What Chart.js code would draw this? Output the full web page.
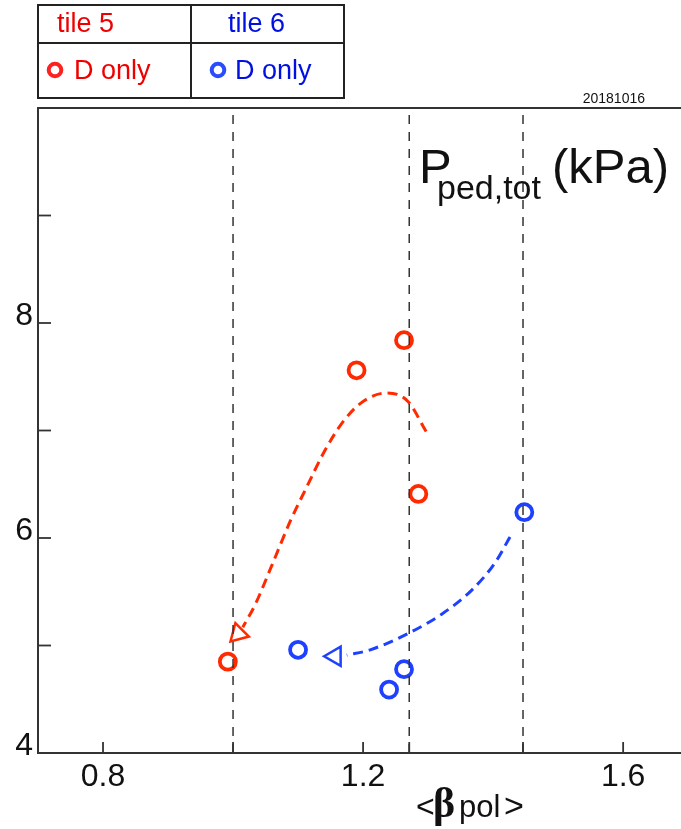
<!DOCTYPE html>
<html>
<head>
<meta charset="utf-8">
<script src="https://cdn.jsdelivr.net/npm/chart.js@4.4.1/dist/chart.umd.min.js"></script>
<style>
  body { margin: 0; background: #fff; }
  canvas { display: block; }
</style>
</head>
<body>
<canvas id="myChart" width="681" height="829"></canvas>
<script>
// ---------------- values ----------------
var tile5Beta = [0.992, 1.19, 1.263, 1.285];
var tile5P    = [4.85, 7.56, 7.84, 6.41];
var tile6Beta = [1.10, 1.24, 1.263, 1.448];
var tile6P    = [4.96, 4.59, 4.78, 6.24];

// hand drawn trend arrows
var tile5TrendBeta = [1.297, 1.269, 1.237, 1.200, 1.169, 1.140, 1.113, 1.089, 1.060, 1.034, 1.015];
var tile5TrendP    = [6.99, 7.27, 7.35, 7.27, 7.08, 6.80, 6.47, 6.17, 5.75, 5.38, 5.17];
var tile6TrendBeta = [1.426, 1.403, 1.368, 1.323, 1.272, 1.211, 1.175];
var tile6TrendP    = [6.01, 5.77, 5.52, 5.30, 5.12, 4.96, 4.91];
var arrowBeta = [1.008, 1.157];
var arrowP    = [5.11, 4.90];

var markerLines = [1.0, 1.271, 1.446];
var xTickLabels = [0.8, 1.2, 1.6];
var yMinorTicks = [5, 6, 7, 8, 9];
var yTickLabels = [4, 6, 8];

var RED = "#ff2a00";
var BLUE = "#1e40ff";
var FONT = "'Liberation Sans', Arial, sans-serif";

function pts(xs, ys) {
    return xs.map(function (x, i) { return { x: x, y: ys[i] }; });
}

// vertical dashed reference lines
var lineSets = markerLines.map(function (b) {
    return {
        data: [{ x: b, y: 4 }, { x: b, y: 10 }],
        showLine: true,
        borderColor: "#333",
        borderWidth: 1.5,
        borderDash: [9, 8],
        pointRadius: 0
    };
});

// --------------------- overlay: frame, ticks, texts, legend ---------------------
var overlay = {
    id: "overlay",
    afterDraw: function (chart) {
        var c = chart.ctx;
        var a = chart.chartArea;
        var xs = chart.scales.x, ys = chart.scales.y;
        c.save();
        c.strokeStyle = "#333";
        c.lineWidth = 2;
        // top frame line
        c.beginPath();
        c.moveTo(a.left, a.top);
        c.lineTo(a.right, a.top);
        c.stroke();
        // inward ticks
        c.lineWidth = 1.8;
        xTickLabels.concat(markerLines).forEach(function (v) {
            var px = xs.getPixelForValue(v);
            c.beginPath();
            c.moveTo(px, a.bottom);
            c.lineTo(px, a.bottom - 11);
            c.stroke();
        });
        yMinorTicks.forEach(function (v) {
            var py = ys.getPixelForValue(v);
            c.beginPath();
            c.moveTo(a.left, py);
            c.lineTo(a.left + 13, py);
            c.stroke();
        });

        // title  P_ped,tot (kPa)
        c.fillStyle = "#111";
        c.textBaseline = "alphabetic";
        c.textAlign = "left";
        c.font = "49px " + FONT;
        c.fillText("P", 419, 183);
        c.font = "34px " + FONT;
        c.fillText("ped,tot", 437, 199);
        c.font = "49px " + FONT;
        c.fillText("(kPa)", 552, 183);

        // date stamp
        c.font = "14px " + FONT;
        c.textAlign = "right";
        c.fillText("20181016", 645, 103);

        // x axis title <beta_pol>
        c.textAlign = "left";
        c.font = "32px " + FONT;
        c.fillText("<", 416, 817);
        c.font = "bold 42px 'Liberation Serif', 'DejaVu Serif', serif";
        c.fillText("\u03b2", 433, 817);
        c.font = "31px " + FONT;
        c.fillText("pol", 459, 817);
        c.font = "34px " + FONT;
        c.fillText(">", 504, 817);

        // legend table
        c.strokeStyle = "#222";
        c.lineWidth = 2;
        c.strokeRect(38, 5, 306, 93);
        c.beginPath();
        c.moveTo(38, 43); c.lineTo(344, 43);
        c.moveTo(191, 5); c.lineTo(191, 98);
        c.stroke();
        c.font = "27px " + FONT;
        c.fillStyle = "#ee0000";
        c.fillText("tile 5", 57, 32);
        c.fillText("D only", 74, 79);
        c.fillStyle = "#0010e0";
        c.fillText("tile 6", 228, 32);
        c.fillText("D only", 235, 79);
        c.lineWidth = 4;
        c.strokeStyle = "#ff2020";
        c.beginPath(); c.arc(55, 70, 6.3, 0, Math.PI * 2); c.stroke();
        c.strokeStyle = "#2a4cff";
        c.beginPath(); c.arc(218, 70, 6.3, 0, Math.PI * 2); c.stroke();
        c.restore();
    }
};

var ctx = document.getElementById("myChart");
new Chart(ctx, {
    type: "scatter",
    data: {
        datasets: lineSets.concat([
            {
                label: "tile 5 D only",
                data: pts(tile5Beta, tile5P),
                pointStyle: "circle",
                pointRadius: 8,
                pointBorderWidth: 3.8,
                borderColor: RED,
                backgroundColor: "rgba(0,0,0,0)"
            },
            {
                label: "tile 6 D only",
                data: pts(tile6Beta, tile6P),
                pointStyle: "circle",
                pointRadius: 8,
                pointBorderWidth: 3.8,
                borderColor: BLUE,
                backgroundColor: "rgba(0,0,0,0)"
            },
            {
                data: pts(tile5TrendBeta, tile5TrendP),
                showLine: true,
                cubicInterpolationMode: "monotone",
                borderColor: RED,
                borderWidth: 3,
                borderDash: [10, 6],
                pointRadius: 0
            },
            {
                data: pts(tile6TrendBeta, tile6TrendP),
                showLine: true,
                cubicInterpolationMode: "monotone",
                borderColor: BLUE,
                borderWidth: 3,
                borderDash: [10, 6],
                pointRadius: 0
            },
            {
                data: [{ x: arrowBeta[0], y: arrowP[0] }],
                pointStyle: "triangle",
                pointRotation: 225,
                pointRadius: 11,
                pointBorderWidth: 2.5,
                borderColor: RED,
                backgroundColor: "rgba(0,0,0,0)"
            },
            {
                data: [{ x: arrowBeta[1], y: arrowP[1] }],
                pointStyle: "triangle",
                pointRotation: 270,
                pointRadius: 11,
                pointBorderWidth: 2.5,
                borderColor: BLUE,
                backgroundColor: "rgba(0,0,0,0)"
            }
        ])
    },
    options: {
        responsive: false,
        animation: false,
        layout: {
            autoPadding: false,
            padding: { left: 0, right: 0, top: 108, bottom: 0 }
        },
        plugins: {
            legend: { display: false },
            tooltip: { enabled: false }
        },
        scales: {
            x: {
                type: "linear",
                min: 0.7,
                max: 1.689,
                afterFit: function (s) {
                    s.height = 76;
                    s.paddingLeft = 0;
                    s.paddingRight = 0;
                },
                afterBuildTicks: function (s) {
                    s.ticks = xTickLabels.map(function (v) { return { value: v }; });
                },
                grid: { display: false, drawTicks: false },
                border: { display: true, color: "#333", width: 2 },
                ticks: {
                    padding: 5,
                    color: "#111",
                    font: { family: FONT, size: 32 },
                    callback: function (v) { return v.toFixed(1); }
                }
            },
            y: {
                min: 4,
                max: 10,
                afterFit: function (s) {
                    s.width = 38;
                    s.paddingTop = 0;
                    s.paddingBottom = 0;
                },
                afterBuildTicks: function (s) {
                    s.ticks = yTickLabels.map(function (v) { return { value: v }; });
                },
                grid: { display: false, drawTicks: false },
                border: { display: true, color: "#333", width: 2 },
                ticks: {
                    padding: 5,
                    labelOffset: -7,
                    color: "#111",
                    font: { family: FONT, size: 32 }
                }
            }
        }
    },
    plugins: [overlay]
});
</script>
</body>
</html>
